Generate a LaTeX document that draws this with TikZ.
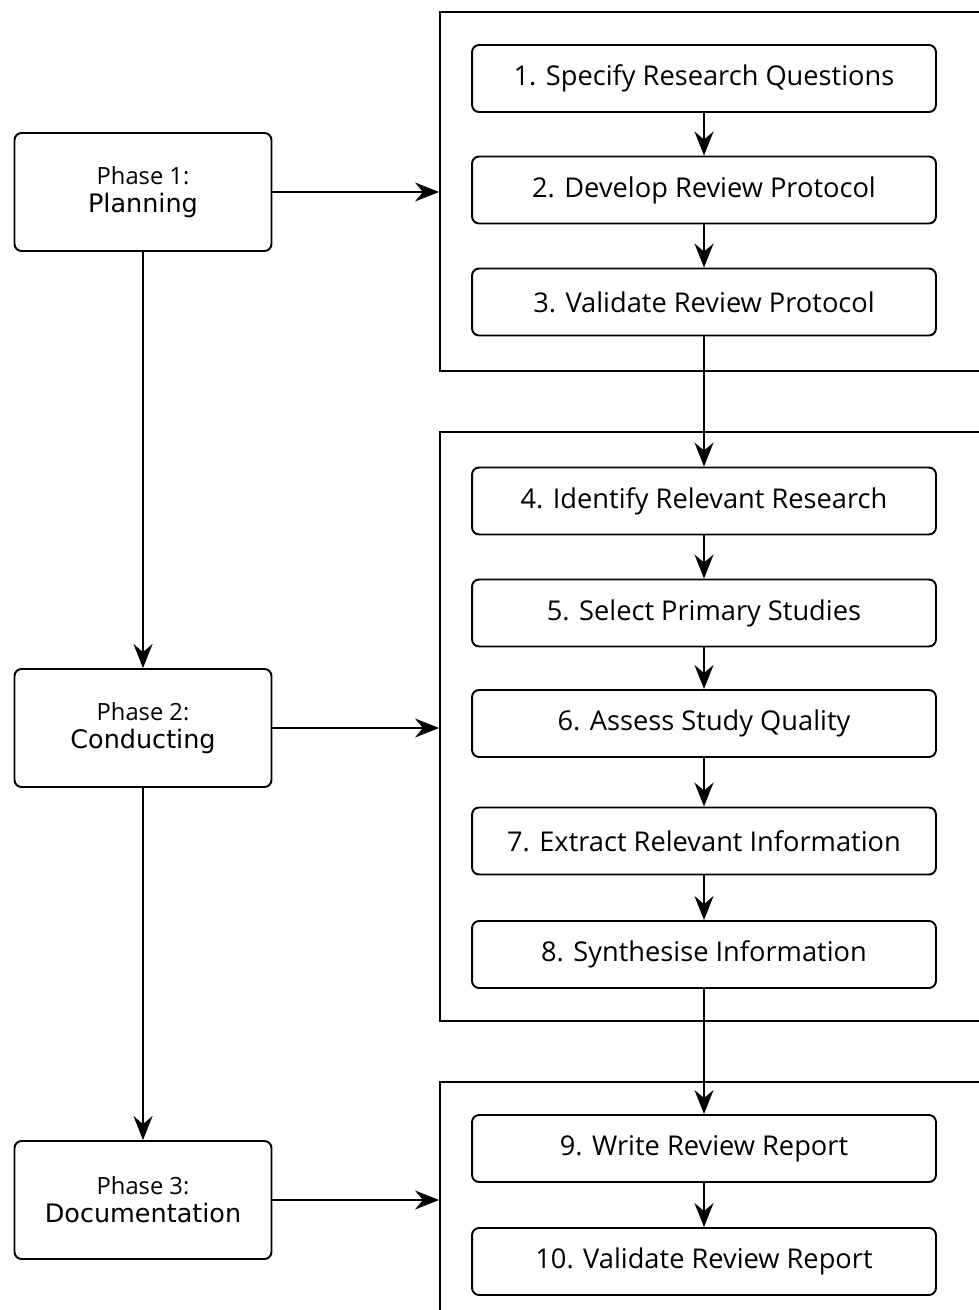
\documentclass[tikz,border=0pt]{standalone}
\usepackage{fontspec}
\setmainfont{Open Sans}
\newfontfamily\namefont{DejaVu Sans}
\usetikzlibrary{arrows.meta,positioning}

\begin{document}
\begin{tikzpicture}[x=0.02cm,y=-0.02cm,
		phase/.style={draw, line width=1.1pt, rounded corners=4pt, minimum width=5.14cm, minimum height=2.36cm, align=center, font=\fontsize{13.5pt}{16pt}\selectfont},
		stepbox/.style={draw, line width=1.1pt, rounded corners=4pt, minimum width=9.28cm, minimum height=1.34cm, font=\fontsize{15.5pt}{18pt}\selectfont},
		group/.style={draw, line width=1.2pt, minimum width=11.4cm},
		>={Stealth[length=4.8mm,width=3.8mm,inset=1.6mm]}]
		\useasboundingbox (0,0) rectangle (979,1310);
		\clip (0,0) rectangle (979,1310);

		% frames round the steps
		\node[group, minimum height=7.18cm] (g1) at (725,191.5) {};
		\node[group, minimum height=11.78cm] (g2) at (725,726.5) {};
		\node[group, minimum height=4.68cm] (g3) at (725,1199) {};

		% phases
		\node[phase] (p1) at (143,192) {Phase 1:\\{\namefont\fontsize{14.5pt}{16pt}\selectfont Planning}};
		\node[phase] (p2) at (143,728) {Phase 2:\\{\namefont\fontsize{14.5pt}{16pt}\selectfont Conducting}};
		\node[phase] (p3) at (143,1200) {Phase 3:\\{\namefont\fontsize{14.5pt}{16pt}\selectfont Documentation}};

		% steps
		\foreach \n/\y/\t in {1/78.5/{1. Specify Research Questions}, 2/190/{2. Develop Review Protocol}, 3/302/{3. Validate Review Protocol}, 4/501/{4. Identify Relevant Research}, 5/613/{5. Select Primary Studies}, 6/723.5/{6. Assess Study Quality}, 7/841/{7. Extract Relevant Information}, 8/954.5/{8. Synthesise Information}, 9/1148.5/{9. Write Review Report}, 10/1261.5/{10. Validate Review Report}}
			\node[stepbox] (s\n) at (704,\y) {\t};

		\foreach \a/\b in {1/2, 2/3, 3/4, 4/5, 5/6, 6/7, 7/8, 8/9, 9/10}
			\draw[->, line width=1.1pt] (s\a) -- (s\b);

		\draw[->, line width=1.1pt] (p1) -- (p2);
		\draw[->, line width=1.1pt] (p2) -- (p3);
		\draw[->, line width=1.1pt] (p1) -- (p1 -| g1.west);
		\draw[->, line width=1.1pt] (p2) -- (p2 -| g2.west);
		\draw[->, line width=1.1pt] (p3) -- (p3 -| g3.west);
	\end{tikzpicture}
\end{document}
